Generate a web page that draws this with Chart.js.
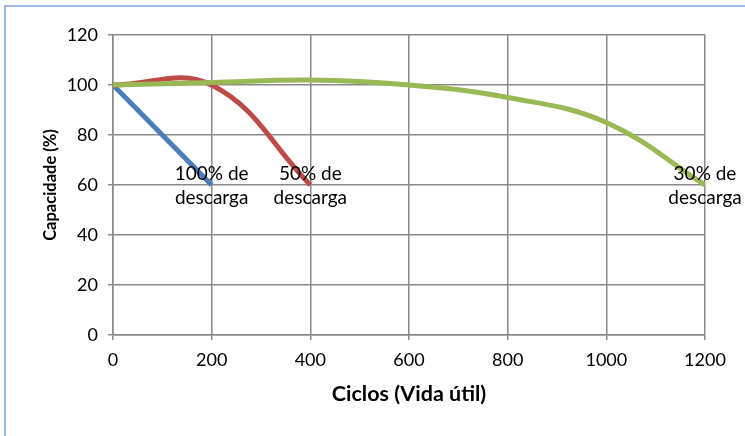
<!DOCTYPE html>
<html>
<head>
<meta charset="utf-8">
<script src="https://cdn.jsdelivr.net/npm/chart.js@4.4.1/dist/chart.umd.min.js"></script>
<style>
  html, body { margin: 0; padding: 0; background: #ffffff; }
  #wrap { position: relative; width: 745px; height: 436px; }
  canvas { display: block; }
</style>
</head>
<body>
<div id="wrap"><canvas id="c" width="745" height="436"></canvas></div>
<script>
// ---- data ----
const seriesNames = ['100% de descarga', '50% de descarga', '30% de descarga'];
const cycles100 = [0, 200];
const capacity100 = [100, 60];
const cycles50 = [0, 200, 400];
const capacity50 = [100, 100, 60];
const cycles30 = [0, 200, 400, 600, 800, 1000, 1200];
const capacity30 = [100, 101, 102, 100, 95, 85, 60];
const endLabels = [['100% de', 'descarga'], ['50% de', 'descarga'], ['30% de', 'descarga']];
const xTicks = [0, 200, 400, 600, 800, 1000, 1200];
const yTicks = [0, 20, 40, 60, 80, 100, 120];
const xTitle = 'Ciclos (Vida útil)';
const yTitle = 'Capacidade (%)';

const toPoints = (xs, ys) => xs.map((x, i) => ({ x: x, y: ys[i] }));

const FONT = 'Lato, "Open Sans", sans-serif';
const GRID = '#8a8a8a';

const frame = {
  id: 'frame',
  afterDraw(chart) {
    const ctx = chart.ctx;
    ctx.save();
    ctx.strokeStyle = '#9db9e6';
    ctx.lineWidth = 2;
    ctx.beginPath();
    ctx.moveTo(5, 436);
    ctx.lineTo(5, 6);
    ctx.lineTo(745, 6);
    ctx.stroke();
    ctx.restore();
  }
};

const endLabelPlugin = {
  id: 'endLabels',
  afterDatasetsDraw(chart) {
    const ctx = chart.ctx;
    ctx.save();
    ctx.fillStyle = '#000000';
    ctx.font = '19px ' + FONT;
    ctx.textAlign = 'center';
    ctx.textBaseline = 'middle';
    chart.data.datasets.forEach((ds, i) => {
      const meta = chart.getDatasetMeta(i);
      const last = meta.data[meta.data.length - 1];
      const lines = endLabels[i];
      ctx.fillText(lines[0], last.x, last.y - 11);
      ctx.fillText(lines[1], last.x, last.y + 13);
    });
    ctx.restore();
  }
};

new Chart(document.getElementById('c'), {
  type: 'line',
  data: {
    datasets: [
      { label: seriesNames[0], data: toPoints(cycles100, capacity100), borderColor: '#4a7ebb', borderWidth: 5, pointRadius: 0, tension: 0.4, order: 2 },
      { label: seriesNames[1], data: toPoints(cycles50, capacity50), borderColor: '#be4b48', borderWidth: 5, pointRadius: 0, tension: 0.4, order: 1 },
      { label: seriesNames[2], data: toPoints(cycles30, capacity30), borderColor: '#98b954', borderWidth: 5, pointRadius: 0, tension: 0.4, order: 0 }
    ]
  },
  options: {
    responsive: false,
    animation: false,
    layout: { padding: { left: 0, right: 40, top: 35, bottom: 0 } },
    plugins: { legend: { display: false }, tooltip: { enabled: false } },
    scales: {
      x: {
        type: 'linear',
        min: 0, max: 1200,
        afterBuildTicks: (axis) => { axis.ticks = xTicks.map(v => ({ value: v })); },
        afterFit: (axis) => { axis.height = 101; },
        ticks: { color: '#000', font: { family: FONT, size: 18 }, padding: 9, maxRotation: 0, callback: (v) => String(v) },
        grid: { color: GRID, lineWidth: 1.5, tickLength: 5 },
        border: { color: GRID, width: 1.5 },
        title: { display: true, text: xTitle, color: '#000', font: { family: FONT, size: 21.5, weight: 'bold' }, padding: { top: 0, bottom: 29.5 } }
      },
      y: {
        min: 0, max: 120,
        afterBuildTicks: (axis) => { axis.ticks = yTicks.map(v => ({ value: v })); },
        afterFit: (axis) => { axis.width = 113; },
        ticks: { color: '#000', font: { family: FONT, size: 18 }, padding: 10, callback: (v) => String(v) },
        grid: { color: GRID, lineWidth: 1.5, tickLength: 5 },
        border: { color: GRID, width: 1.5 },
        title: { display: true, text: yTitle, color: '#000', font: { family: FONT, size: 16.5, weight: 'bold' }, padding: { top: 40.5, bottom: 0 } }
      }
    }
  },
  plugins: [frame, endLabelPlugin]
});
</script>
</body>
</html>
